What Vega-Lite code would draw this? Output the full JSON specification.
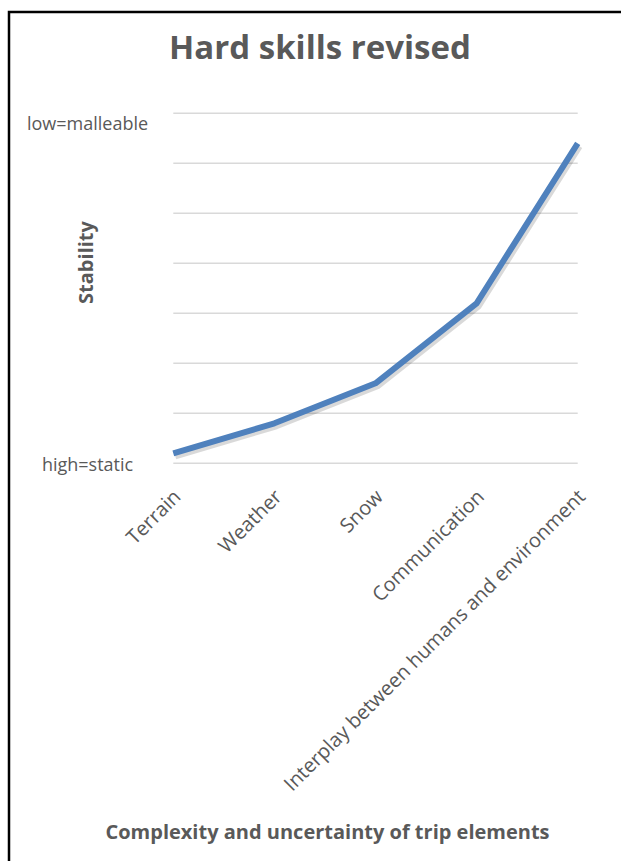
{
  "$schema": "https://vega.github.io/schema/vega-lite/v6.json",
  "width": 622,
  "height": 859,
  "autosize": {"type": "none"},
  "padding": {"left": 9, "top": 12, "right": -10, "bottom": -10},
  "background": "white",
  "config": {
    "view": {"stroke": "#000000", "strokeWidth": 2.5},
    "font": "Open Sans",
    "axis": {"labelFont": "Open Sans", "titleFont": "Open Sans"}
  },
  "title": {
    "text": "Hard skills revised",
    "font": "Open Sans",
    "fontSize": 33,
    "fontWeight": "bold",
    "color": "#595959",
    "anchor": "middle",
    "frame": "group",
    "offset": 0,
    "baseline": "alphabetic",
    "dy": 80
  },
  "datasets": {
    "series": [
      {"element": "Terrain", "value": 0.2},
      {"element": "Weather", "value": 0.8},
      {"element": "Snow", "value": 1.6},
      {"element": "Communication", "value": 3.2},
      {"element": "Interplay between humans and environment", "value": 6.4}
    ],
    "grid": [
      {"value": 0}, {"value": 1}, {"value": 2}, {"value": 3},
      {"value": 4}, {"value": 5}, {"value": 6}, {"value": 7}
    ]
  },
  "encoding": {
    "x": {
      "field": "element",
      "type": "nominal",
      "sort": null,
      "scale": {
        "type": "point",
        "domain": ["Terrain", "Weather", "Snow", "Communication", "Interplay between humans and environment"],
        "range": [164.3, 568.7],
        "padding": 0
      },
      "axis": {
        "orient": "bottom",
        "offset": -407.7,
        "labelAngle": -45,
        "labelAlign": "right",
        "labelBaseline": "middle",
        "labelFontSize": 20,
        "labelColor": "#595959",
        "labelPadding": 30,
        "labelOffset": 4,
        "labelLimit": 0,
        "labelOverlap": false,
        "domain": false,
        "ticks": false,
        "tickSize": 0,
        "grid": false,
        "title": "Complexity and uncertainty of trip elements",
        "titleFontSize": 20,
        "titleFontWeight": "bold",
        "titleColor": "#595959",
        "titleX": 318,
        "titleY": 375,
        "titleAlign": "center",
        "titleBaseline": "alphabetic",
        "titleAnchor": null
      }
    },
    "y": {
      "field": "value",
      "type": "quantitative",
      "scale": {"domain": [0, 7], "range": [451.3, 101.3], "nice": false, "zero": false},
      "axis": {
        "values": [0, 7],
        "labelExpr": "datum.value == 7 ? 'low=malleable' : 'high=static'",
        "grid": false,
        "domain": false,
        "ticks": false,
        "tickSize": 0,
        "labelAlign": "center",
        "labelPadding": -78,
        "labelBaseline": {"condition": {"test": "datum.value == 7", "value": "top"}, "value": "middle"},
        "labelOffset": 2,
        "labelFontSize": 18,
        "labelColor": "#595959",
        "labelFlush": false,
        "labelOverlap": false,
        "labelBound": false,
        "title": "Stability",
        "titleFontSize": 20,
        "titleFontWeight": "bold",
        "titleColor": "#595959",
        "titleAngle": -90,
        "titleX": 83,
        "titleY": 250,
        "titleAlign": "center",
        "titleBaseline": "alphabetic"
      }
    }
  },
  "layer": [
    {
      "data": {"name": "grid"},
      "mark": {"type": "rule", "color": "#d9d9d9", "strokeWidth": 1.5},
      "encoding": {
        "x": {"datum": "Terrain"},
        "x2": {"datum": "Interplay between humans and environment"}
      }
    },
    {
      "data": {"name": "series"},
      "mark": {"type": "line", "color": "#000000", "opacity": 0.15, "strokeWidth": 6, "xOffset": 2, "yOffset": 3, "strokeJoin": "round"}
    },
    {
      "data": {"name": "series"},
      "mark": {"type": "line", "color": "#4f81bd", "strokeWidth": 6, "strokeJoin": "round"}
    }
  ]
}
